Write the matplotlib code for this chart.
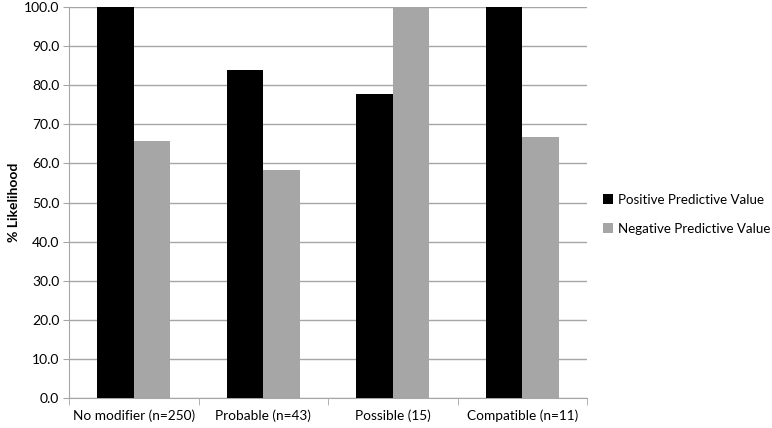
import numpy as np
import matplotlib
matplotlib.use("Agg")
import matplotlib.pyplot as plt

categories = ["No modifier (n=250)", "Probable (n=43)", "Possible (15)", "Compatible (n=11)"]
ppv = [100.0, 83.9, 77.8, 100.0]
npv = [65.8, 58.4, 100.0, 66.7]
series_names = ["Positive Predictive Value", "Negative Predictive Value"]

plt.rcParams["font.family"] = ["Lato", "DejaVu Sans"]

fig = plt.figure(figsize=(7.72, 4.28), dpi=100)
ax = fig.add_axes([69 / 772, 1 - 398 / 428, (587 - 69) / 772, (398 - 7) / 428])

x = np.arange(len(categories))
w = 0.28
ax.bar(x - w / 2, ppv, w, color="black", label=series_names[0], zorder=3)
ax.bar(x + w / 2, npv, w, color="#a6a6a6", label=series_names[1], zorder=3)

ax.set_xlim(-0.5, len(categories) - 0.5)
ax.set_ylim(0, 100)
ax.set_yticks(np.arange(0, 101, 10))
ax.set_yticklabels([f"{v:.1f}" for v in np.arange(0, 101, 10)], fontsize=10)
ax.set_xticks(x)
ax.set_xticklabels(categories, fontsize=9.8)
ax.tick_params(axis="x", length=0, pad=8)
ax.set_xticks(np.arange(-0.5, len(categories)), minor=True)
ax.tick_params(axis="x", which="minor", length=5, color="#a6a6a6", direction="out")
ax.tick_params(axis="y", length=4, color="#a6a6a6", pad=3)

ax.grid(axis="y", color="#a6a6a6", linewidth=1, zorder=0)
for s in ["top", "right"]:
    ax.spines[s].set_visible(False)
for s in ["left", "bottom"]:
    ax.spines[s].set_color("#a6a6a6")

ax.set_ylabel("% Likelihood", fontsize=10, fontweight="bold", labelpad=3)

ax.legend(loc="center left", bbox_to_anchor=(1.012, 0.47), frameon=False, fontsize=9.6,
          borderpad=0.2, handlelength=0.75, handleheight=0.75, handletextpad=0.4,
          labelspacing=1.3)

fig.savefig("out.png", dpi=100)
